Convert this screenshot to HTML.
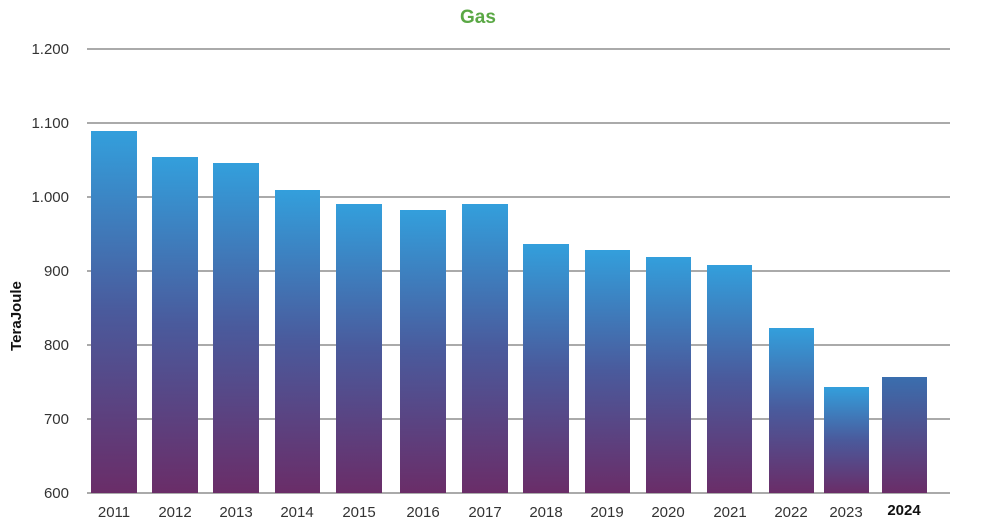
<!DOCTYPE html>
<html><head><style>body{margin:0;background:#fff}svg{display:block}</style></head><body>
<svg width="1000" height="529" xmlns="http://www.w3.org/2000/svg" font-family="Liberation Sans, sans-serif">
<defs>
<linearGradient id="g" x1="0" y1="0" x2="0" y2="1"><stop offset="0" stop-color="#339fdc"/><stop offset="0.5" stop-color="#4a5a9c"/><stop offset="1" stop-color="#6a2d68"/></linearGradient>
<linearGradient id="g2" x1="0" y1="0" x2="0" y2="1"><stop offset="0" stop-color="#3a6eae"/><stop offset="1" stop-color="#6a2d68"/></linearGradient>
</defs>
<text x="478" y="23" text-anchor="middle" font-size="19" font-weight="bold" fill="#5aa845">Gas</text>
<g stroke="#777" stroke-width="1.3">
<line x1="87" x2="950" y1="49" y2="49"/><line x1="87" x2="950" y1="123" y2="123"/><line x1="87" x2="950" y1="197" y2="197"/><line x1="87" x2="950" y1="271" y2="271"/><line x1="87" x2="950" y1="345" y2="345"/><line x1="87" x2="950" y1="419" y2="419"/><line x1="87" x2="950" y1="493" y2="493"/>
</g>
<g font-size="15" fill="#333" text-anchor="end">
<text x="69" y="54">1.200</text><text x="69" y="128">1.100</text><text x="69" y="202">1.000</text><text x="69" y="276">900</text><text x="69" y="350">800</text><text x="69" y="424">700</text><text x="69" y="498">600</text>
</g>
<text transform="translate(21,316) rotate(-90)" text-anchor="middle" font-size="15" font-weight="bold" fill="#111">TeraJoule</text>
<g fill="url(#g)">
<rect x="91" y="131" width="46" height="362"/>
<rect x="152" y="157" width="46" height="336"/>
<rect x="213" y="163" width="46" height="330"/>
<rect x="275" y="190" width="45" height="303"/>
<rect x="336" y="204" width="46" height="289"/>
<rect x="400" y="210" width="46" height="283"/>
<rect x="462" y="204" width="46" height="289"/>
<rect x="523" y="244" width="46" height="249"/>
<rect x="585" y="250" width="45" height="243"/>
<rect x="646" y="257" width="45" height="236"/>
<rect x="707" y="265" width="45" height="228"/>
<rect x="769" y="328" width="45" height="165"/>
<rect x="824" y="387" width="45" height="106"/>
</g>
<rect x="882" y="377" width="45" height="116" fill="url(#g2)"/>
<g font-size="15" fill="#333" text-anchor="middle">
<text x="114" y="517">2011</text><text x="175" y="517">2012</text><text x="236" y="517">2013</text><text x="297" y="517">2014</text><text x="359" y="517">2015</text><text x="423" y="517">2016</text><text x="485" y="517">2017</text><text x="546" y="517">2018</text><text x="607" y="517">2019</text><text x="668" y="517">2020</text><text x="730" y="517">2021</text><text x="791" y="517">2022</text><text x="846" y="517">2023</text>
<text x="904" y="515" font-weight="bold" fill="#111">2024</text>
</g>
</svg>
</body></html>
